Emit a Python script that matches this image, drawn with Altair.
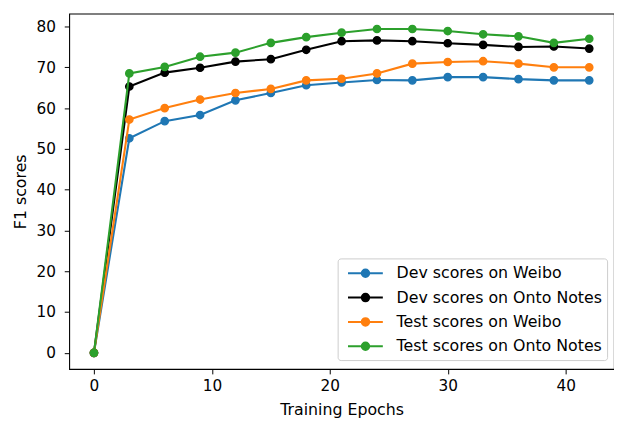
import altair as alt
import pandas as pd

epochs = [0, 3, 6, 9, 12, 15, 18, 21, 24, 27, 30, 33, 36, 39, 42]
dev_weibo = [0, 52.6, 56.8, 58.3, 61.9, 63.7, 65.6, 66.3, 66.9, 66.8, 67.6, 67.6, 67.1, 66.8, 66.8]
dev_onto = [0, 65.3, 68.7, 69.9, 71.4, 72.0, 74.3, 76.4, 76.6, 76.4, 75.9, 75.5, 75.0, 75.1, 74.6]
test_weibo = [0, 57.2, 60.0, 62.1, 63.7, 64.7, 66.8, 67.2, 68.5, 70.9, 71.3, 71.5, 70.9, 70.0, 70.0]
test_onto = [0, 68.5, 70.1, 72.6, 73.6, 76.0, 77.4, 78.5, 79.4, 79.4, 78.9, 78.1, 77.6, 76.0, 77.0]

series_names = ["Dev scores on Weibo", "Dev scores on Onto Notes",
                "Test scores on Weibo", "Test scores on Onto Notes"]
series_values = [dev_weibo, dev_onto, test_weibo, test_onto]
colors = ["#1f77b4", "#000000", "#ff7f0e", "#2ca02c"]

rows = []
for name, vals in zip(series_names, series_values):
    for e, v in zip(epochs, vals):
        rows.append({"epoch": e, "score": v, "series": name})
df = pd.DataFrame(rows)

FONT = "DejaVu Sans"

x = alt.X("epoch:Q",
          scale=alt.Scale(domain=[-2.1, 44.1], nice=False, zero=False),
          axis=alt.Axis(values=[0, 10, 20, 30, 40], title="Training Epochs"))
y = alt.Y("score:Q",
          scale=alt.Scale(domain=[-3.96, 83.16], nice=False, zero=False),
          axis=alt.Axis(values=list(range(0, 81, 10)), title="F1 scores"))

legend = alt.Legend(
    title=None, orient="none", legendX=272, legendY=248,
    symbolType="M-0.5,0L3.42,0M1.047,0A0.42,0.42,0,1,1,1.887,0A0.42,0.42,0,1,1,1.047,0Z",
    symbolSize=324, symbolStrokeWidth=2, symbolOpacity=1,
    labelFont=FONT, labelFontSize=16, labelColor="#000000", labelOffset=34.7,
    labelLimit=400,
    rowPadding=6.67, padding=5, fillColor="rgba(255,255,255,0.8)",
    strokeColor="#cccccc", cornerRadius=3,
)
scale = alt.Scale(domain=series_names, range=colors)

base = alt.Chart(df)
layers = []
for name in series_names:
    sub = base.transform_filter(alt.datum.series == name)
    layers.append(sub.mark_line(strokeWidth=2.1).encode(
        x=x, y=y, stroke=alt.Stroke("series:N", scale=scale, legend=legend)))
    layers.append(sub.mark_point(shape="circle", filled=True, opacity=1, size=55,
                                 strokeWidth=1.4).encode(
        x=x, y=y,
        fill=alt.Fill("series:N", scale=scale, legend=legend),
        stroke=alt.Stroke("series:N", scale=scale, legend=legend)))

chart = alt.layer(*layers).properties(
    width=552, height=360,
    autosize=alt.AutoSizeParams(type="none"),
    padding={"left": 62, "top": 3, "right": 0, "bottom": 50},
).configure_view(
    stroke="#000000", strokeWidth=1.1
).configure_axis(
    grid=False, domain=False, ticks=True, tickColor="#000000", tickSize=5, tickWidth=1,
    labelFont=FONT, labelFontSize=15.5, labelColor="#000000",
    titleFont=FONT, titleFontSize=16, titleFontWeight="normal", titleColor="#000000",
).configure_axisX(
    labelPadding=4.5, titlePadding=8.5,
).configure_axisY(
    labelPadding=9, titlePadding=7.9,
)

chart.save("out.html", embed_options={"renderer": "svg", "actions": False})
